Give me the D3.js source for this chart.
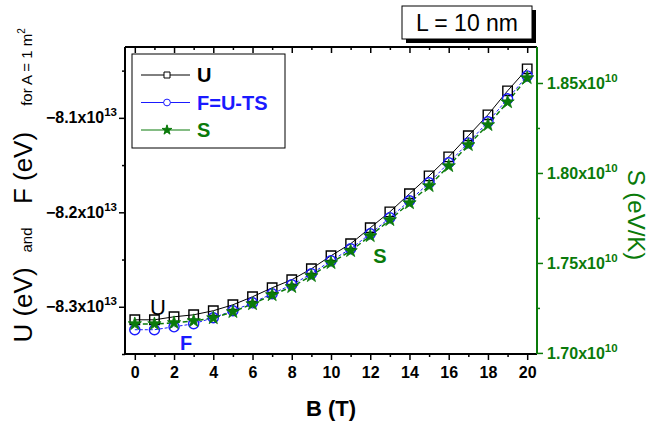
<!DOCTYPE html>
<html><head><meta charset="utf-8">
<script src="https://cdn.jsdelivr.net/npm/d3@7"></script>
<style>body{margin:0;background:#fff}svg{display:block;font-family:"Liberation Sans",Arial,sans-serif}</style>
</head><body><svg id="c" width="652" height="426"></svg>
<script>
// ---- data ----
const bField = [0,1,2,3,4,5,6,7,8,9,10,11,12,13,14,15,16,17,18,19,20]; // T
// energies in units of 1e13 eV
const uEnergy = [-8.3138,-8.3138,-8.3106,-8.3085,-8.3042,-8.2979,-8.2894,-8.2799,-8.2714,-8.2598,-8.2460,-8.2333,-8.2164,-8.1995,-8.1804,-8.1614,-8.1413,-8.1190,-8.0968,-8.0714,-8.0481];
const fEnergy = [-8.3243,-8.3243,-8.3212,-8.3180,-8.3116,-8.3042,-8.2958,-8.2862,-8.2767,-8.2651,-8.2513,-8.2386,-8.2228,-8.2058,-8.1878,-8.1688,-8.1476,-8.1265,-8.1042,-8.0799,-8.0556];
// entropy in units of 1e10 eV/K
const sEntropy = [1.7161,1.7161,1.7167,1.7178,1.7194,1.7228,1.7272,1.7322,1.7367,1.7428,1.7500,1.7567,1.7650,1.7739,1.7833,1.7928,1.8039,1.8156,1.8267,1.8394,1.8528];
const xTickValues = [0,2,4,6,8,10,12,14,16,18,20];
const xMinorValues = [1,3,5,7,9,11,13,15,17,19];
const leftTickValues = [-8.3,-8.2,-8.1];
const leftMinorValues = [-8.35,-8.25,-8.15,-8.05];
const leftExponent = "13";
const rightTickValues = [1.70,1.75,1.80,1.85];
const rightMinorValues = [1.725,1.775,1.825];
const rightExponent = "10";
const legendLabels = ["U","F=U-TS","S"];

// ---- layout ----
const L = 125, R = 537, T = 47, Bm = 354;
const svg = d3.select("#c");
const black = "#000", blue = "#1a1aff", green = "#0a7a0a";

const x = d3.scaleLinear().domain([-0.5, 20.5]).range([L, R]);
const yL = d3.scaleLinear().domain([-8.35, -8.025]).range([Bm, T]);
const yR = d3.scaleLinear().domain([1.6994, 1.87]).range([Bm, T]);

function styleAxis(g, color){
  g.select(".domain").remove();
  g.selectAll("line").attr("stroke", color).attr("stroke-width", 1.5);
  g.selectAll("text").attr("fill", color).attr("font-size", 16).attr("font-weight","bold");
}
function supLabels(g, fmt, exp){
  g.selectAll(".tick text").each(function(d){
    const t = d3.select(this); t.text(null);
    t.append("tspan").text(fmt(d) + "x10");
    t.append("tspan").attr("font-size", 11.5).attr("dy", -7).text(exp);
  });
}

// bottom axis
const gx = svg.append("g").attr("transform", `translate(0,${Bm})`)
  .call(d3.axisBottom(x).tickValues(xTickValues).tickSize(6).tickPadding(7).tickFormat(d3.format("d")));
styleAxis(gx, black);
svg.append("g").attr("transform", `translate(0,${Bm})`)
  .call(d3.axisBottom(x).tickValues(xMinorValues).tickSize(3).tickFormat(""))
  .call(g => styleAxis(g, black));
// top axis (inward ticks)
svg.append("g").attr("transform", `translate(0,${T})`)
  .call(d3.axisBottom(x).tickValues(xTickValues).tickSize(6).tickFormat(""))
  .call(g => styleAxis(g, black));
svg.append("g").attr("transform", `translate(0,${T})`)
  .call(d3.axisBottom(x).tickValues(xMinorValues).tickSize(3).tickFormat(""))
  .call(g => styleAxis(g, black));

// left axis
const gl = svg.append("g").attr("transform", `translate(${L},0)`)
  .call(d3.axisLeft(yL).tickValues(leftTickValues).tickSize(6).tickPadding(2));
styleAxis(gl, black);
supLabels(gl, d3.format(".1f"), leftExponent);
svg.append("g").attr("transform", `translate(${L},0)`)
  .call(d3.axisLeft(yL).tickValues(leftMinorValues).tickSize(3).tickFormat(""))
  .call(g => styleAxis(g, black));

// right axis
const gr = svg.append("g").attr("transform", `translate(${R},0)`)
  .call(d3.axisRight(yR).tickValues(rightTickValues).tickSize(6).tickPadding(4));
styleAxis(gr, green);
supLabels(gr, d3.format(".2f"), rightExponent);
svg.append("g").attr("transform", `translate(${R},0)`)
  .call(d3.axisRight(yR).tickValues(rightMinorValues).tickSize(3).tickFormat(""))
  .call(g => styleAxis(g, green));

// frame lines
svg.append("line").attr("x1", L).attr("x2", R).attr("y1", T).attr("y2", T).attr("stroke", black).attr("stroke-width", 2);
svg.append("line").attr("x1", L).attr("x2", R).attr("y1", Bm).attr("y2", Bm).attr("stroke", black).attr("stroke-width", 2);
svg.append("line").attr("x1", L).attr("x2", L).attr("y1", T).attr("y2", Bm).attr("stroke", black).attr("stroke-width", 2);
svg.append("line").attr("x1", R).attr("x2", R).attr("y1", T).attr("y2", Bm).attr("stroke", green).attr("stroke-width", 2);

// ---- series ----
const uPts = bField.map((b,i)=>[x(b), yL(uEnergy[i])]);
const fPts = bField.map((b,i)=>[x(b), yL(fEnergy[i])]);
const sPts = bField.map((b,i)=>[x(b), yR(sEntropy[i])]);
const line = d3.line();
svg.append("path").attr("d", line(uPts)).attr("fill","none").attr("stroke", black).attr("stroke-width", 1);
svg.append("path").attr("d", line(fPts)).attr("fill","none").attr("stroke", blue).attr("stroke-width", 1).attr("stroke-dasharray","3,2");
svg.append("path").attr("d", line(sPts)).attr("fill","none").attr("stroke", green).attr("stroke-width", 1.5).attr("stroke-dasharray","5,3");

const sq = d3.symbol().type(d3.symbolSquare).size(90)();
const ci = d3.symbol().type(d3.symbolCircle).size(80)();
const st = d3.symbol().type(d3.symbolStar).size(55)();
svg.append("g").selectAll("path").data(uPts).join("path").attr("d", sq)
  .attr("transform", d=>`translate(${d[0]},${d[1]})`).attr("fill","none").attr("stroke", black).attr("stroke-width", 1.4);
svg.append("g").selectAll("path").data(fPts).join("path").attr("d", ci)
  .attr("transform", d=>`translate(${d[0]},${d[1]})`).attr("fill","none").attr("stroke", blue).attr("stroke-width", 1.4);
svg.append("g").selectAll("path").data(sPts).join("path").attr("d", st)
  .attr("transform", d=>`translate(${d[0]},${d[1]})`).attr("fill", green).attr("stroke", green).attr("stroke-width", 0.8);

// ---- in-plot labels ----
svg.append("text").attr("x", 158).attr("y", 315).attr("text-anchor","middle").attr("font-size", 22).attr("fill", black).text("U");
svg.append("text").attr("x", 186).attr("y", 350).attr("text-anchor","middle").attr("font-size", 20).attr("font-weight","bold").attr("fill", blue).text("F");
svg.append("text").attr("x", 380).attr("y", 263).attr("text-anchor","middle").attr("font-size", 20).attr("font-weight","bold").attr("fill", green).text("S");

// ---- legend ----
const lg = svg.append("g");
lg.append("rect").attr("x", 132).attr("y", 54).attr("width", 153).attr("height", 94).attr("fill","#fff").attr("stroke", black).attr("stroke-width", 1);
const legColors = [black, blue, green];
const legSyms = [d3.symbol().type(d3.symbolSquare).size(36)(), d3.symbol().type(d3.symbolCircle).size(36)(), d3.symbol().type(d3.symbolStar).size(30)()];
legendLabels.forEach((lab,i)=>{
  const yy = 75 + i*27.5;
  lg.append("line").attr("x1",141).attr("x2",190).attr("y1",yy).attr("y2",yy).attr("stroke", legColors[i]).attr("stroke-width",1);
  lg.append("path").attr("d", legSyms[i]).attr("transform",`translate(167,${yy})`)
    .attr("fill", i===2 ? green : "#fff").attr("stroke", legColors[i]).attr("stroke-width", 1);
  lg.append("text").attr("x",197).attr("y",yy+7).attr("font-size",20).attr("font-weight","bold").attr("fill", legColors[i]).text(lab);
});

// ---- L box ----
svg.append("rect").attr("x", 406).attr("y", 10).attr("width", 130).attr("height", 33).attr("fill", black);
svg.append("rect").attr("x", 402).attr("y", 6).attr("width", 130).attr("height", 33).attr("fill", "#fff").attr("stroke", black).attr("stroke-width", 1);
svg.append("text").attr("x", 467).attr("y", 31).attr("text-anchor","middle").attr("font-size", 23).attr("fill", black).text("L = 10 nm");

// ---- axis titles ----
svg.append("text").attr("x", 331).attr("y", 416).attr("text-anchor","middle").attr("font-size", 22).attr("font-weight","bold").text("B (T)");
function vtext(txt, cy, size){
  return svg.append("text").attr("transform", `translate(32,${cy}) rotate(-90)`).attr("text-anchor","middle").attr("font-size", size).text(txt);
}
vtext("U (eV)", 305, 26);
vtext("and", 240, 15);
vtext("F (eV)", 168, 26);
const ft = svg.append("text").attr("transform", `translate(32,67) rotate(-90)`).attr("text-anchor","middle").attr("font-size", 15);
ft.append("tspan").text("for A = 1 m");
ft.append("tspan").attr("font-size", 10).attr("dy", -7).text("2");
svg.append("text").attr("transform", `translate(628,215) rotate(90)`).attr("text-anchor","middle").attr("font-size", 24).attr("fill", green).text("S (eV/K)");
</script>
</body></html>
